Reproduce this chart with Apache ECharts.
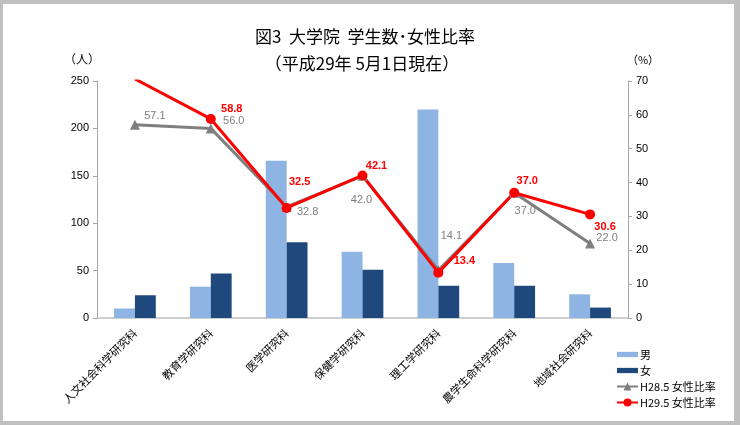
<!DOCTYPE html>
<html><head><meta charset="utf-8">
<script src="https://cdn.jsdelivr.net/npm/echarts@6/dist/echarts.min.js"></script>
<style>html,body{margin:0;padding:0;background:#c0c0c0;}#c{width:740px;height:425px;}</style>
</head><body><div id="c"></div>
<script>
const categories = ['人文社会科学研究科','教育学研究科','医学研究科','保健学研究科','理工学研究科','農学生命科学研究科','地域社会研究科'];
const male = [10, 33, 166, 70, 220, 58, 25];
const female = [24, 47, 80, 51, 34, 34, 11];
const ratioH28 = [57.1, 56.0, 32.8, 42.0, 14.1, 37.0, 22.0];
const ratioH29 = [70.6, 58.8, 32.5, 42.1, 13.4, 37.0, 30.6];
const leftTicks = [0, 250, 50];
const rightTicks = [0, 70, 10];

// label layout (offsets from point, px)
const offH28 = [[20,-9],[23,-7],[21,5],[-1,24],[13,-34],[11,18],[17,-6]];
const offH29 = [null,[21,-10],[13,-26],[14,-9],[26,-12],[13,-12],[15,13]];

const font = '"Noto Sans CJK JP", "Noto Sans", sans-serif';
const chart = echarts.init(document.getElementById('c'));
chart.setOption({
  backgroundColor: '#c0c0c0',
  animation: false,
  graphic: [{type:'rect', shape:{x:3,y:4,width:731,height:417}, style:{fill:'#ffffff'}, z:-10}],
  title: [
    {text:'図3  大学院  学生数･女性比率', left:360, top:23, textAlign:'center',
     textStyle:{fontFamily:font, fontSize:17, fontWeight:'normal', color:'#000'}},
    {text:'（平成29年 5月1日現在）', left:357, top:50, textAlign:'center',
     textStyle:{fontFamily:font, fontSize:17, fontWeight:'normal', color:'#000'}},
    {text:'（人）', left:77, top:48, textAlign:'center', textStyle:{fontFamily:font, fontSize:12, fontWeight:'normal', color:'#000'}},
    {text:'（%）', left:638, top:49, textAlign:'center', textStyle:{fontFamily:font, fontSize:11, fontWeight:'normal', color:'#000'}}
  ],
  grid: {left:97, right:112, top:81, bottom:107},
  legend: {
    orient:'vertical', left:611, top:344, itemGap:5, itemWidth:21, itemHeight:10,
    textStyle:{fontFamily:font, fontSize:11, color:'#000', padding:[0,0,0,-3]},
    data:[
      {name:'男', icon:'path://M0,3h20v5h-20z'},
      {name:'女', icon:'path://M0,3h20v5h-20z'},
      {name:'H28.5 女性比率'},
      {name:'H29.5 女性比率'}
    ]
  },
  xAxis: {
    type:'category', data:categories,
    axisLine:{lineStyle:{color:'#bfbfbf', width:1.5}},
    axisTick:{show:false},
    axisLabel:{interval:0, rotate:45, fontFamily:font, fontSize:11, color:'#000', margin:13}
  },
  yAxis: [
    {type:'value', min:leftTicks[0], max:leftTicks[1], interval:leftTicks[2],
     axisLine:{show:true, lineStyle:{color:'#a6a6a6'}},
     axisTick:{show:true, length:4, lineStyle:{color:'#a6a6a6'}},
     splitLine:{show:false},
     axisLabel:{fontFamily:'Liberation Sans, Arial, sans-serif', fontSize:11, color:'#000', margin:8}},
    {type:'value', min:rightTicks[0], max:rightTicks[1], interval:rightTicks[2],
     axisLine:{show:true, lineStyle:{color:'#a6a6a6'}},
     axisTick:{show:true, length:4, lineStyle:{color:'#a6a6a6'}},
     splitLine:{show:false},
     axisLabel:{fontFamily:'Liberation Sans, Arial, sans-serif', fontSize:11, color:'#000', margin:8}}
  ],
  series: [
    {name:'男', type:'bar', data:male, barGap:'0%', barCategoryGap:'45%', itemStyle:{color:'#8eb4e3'}},
    {name:'女', type:'bar', data:female, itemStyle:{color:'#1f497d'}},
    {name:'H28.5 女性比率', type:'line', yAxisIndex:1, clip:true,
     data: ratioH28.map((v,i)=>({value:v, label:{offset:offH28[i]}})),
     symbol:'triangle', symbolSize:10, lineStyle:{color:'#7f7f7f', width:3}, itemStyle:{color:'#7f7f7f'},
     label:{show:true, position:'inside', formatter:p=>p.value.toFixed(1), fontFamily:'Liberation Sans, Arial, sans-serif', fontSize:11, color:'#7f7f7f'}},
    {name:'H29.5 女性比率', type:'line', yAxisIndex:1, clip:true,
     data: ratioH29.map((v,i)=>({value:v, label: offH29[i] ? {offset:offH29[i]} : {show:false}, symbol: offH29[i] ? 'circle' : 'none'})),
     symbol:'circle', symbolSize:10, lineStyle:{color:'#ff0000', width:3}, itemStyle:{color:'#ff0000'},
     label:{show:true, position:'inside', formatter:p=>p.value.toFixed(1), fontFamily:'Liberation Sans, Arial, sans-serif', fontSize:11, fontWeight:'bold', color:'#ff0000'}}
  ]
});
</script></body></html>
